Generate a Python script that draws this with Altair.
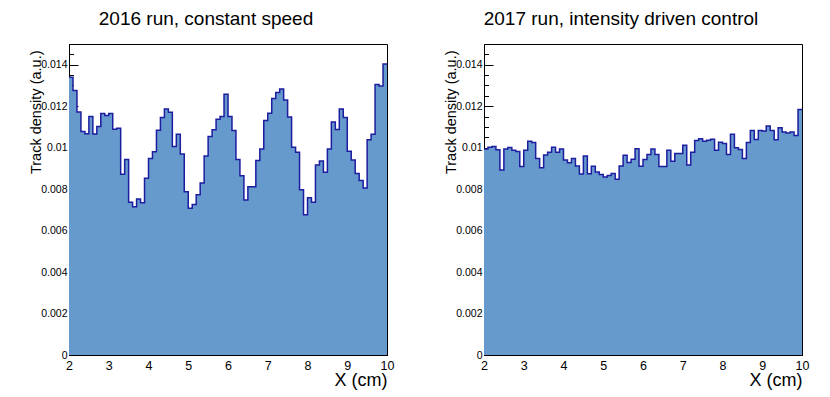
import altair as alt
import numpy as np
import pandas as pd

# ---- data ----
BIN_LOW, BIN_HIGH, N_BINS = 2.0, 10.0, 80

RUN_2016 = [
    0.0134, 0.01276, 0.01172, 0.01078, 0.01067, 0.0115, 0.01066, 0.01102, 0.01165, 0.01155,
    0.01165, 0.01089, 0.01094, 0.00872, 0.00943, 0.00737, 0.00715, 0.00753, 0.00734, 0.00853,
    0.00948, 0.0098, 0.01084, 0.01145, 0.01187, 0.01171, 0.01006, 0.01065, 0.0097, 0.00787,
    0.00708, 0.00726, 0.00773, 0.00829, 0.0096, 0.01054, 0.01086, 0.01137, 0.0115, 0.01258,
    0.0115, 0.01083, 0.00943, 0.00864, 0.00747, 0.00811, 0.00811, 0.00938, 0.00994, 0.01131,
    0.01166, 0.01237, 0.01266, 0.01283, 0.0123, 0.01148, 0.01002, 0.00978, 0.00797, 0.00676,
    0.00758, 0.00737, 0.00917, 0.00936, 0.00882, 0.00994, 0.01124, 0.01088, 0.01187, 0.01145,
    0.00983, 0.0094, 0.00876, 0.00842, 0.00805, 0.01038, 0.01065, 0.01305, 0.01298, 0.01404,
]

RUN_2017 = [
    0.00994, 0.01002, 0.01006, 0.0099, 0.00892, 0.00994, 0.01001, 0.00988, 0.00981, 0.00909,
    0.00988, 0.01031, 0.01025, 0.00948, 0.00903, 0.00965, 0.00978, 0.01002, 0.00978, 0.00994,
    0.0094, 0.00927, 0.00948, 0.00911, 0.00873, 0.0096, 0.00874, 0.0091, 0.00883, 0.00871,
    0.00859, 0.00866, 0.00875, 0.00848, 0.00911, 0.00963, 0.00929, 0.00944, 0.00995, 0.0091,
    0.00943, 0.00967, 0.00994, 0.00967, 0.00909, 0.00909, 0.00988, 0.00935, 0.00972, 0.00972,
    0.01012, 0.00916, 0.00978, 0.01035, 0.01043, 0.01031, 0.01036, 0.01041, 0.00988, 0.01026,
    0.0102, 0.00967, 0.01065, 0.00999, 0.00991, 0.00948, 0.01025, 0.01083, 0.01039, 0.01083,
    0.0108, 0.01104, 0.01083, 0.01038, 0.01096, 0.01075, 0.01071, 0.01076, 0.01059, 0.01184,
]

TITLE_2016 = "2016 run, constant speed"
TITLE_2017 = "2017 run, intensity driven control"
Y_TITLE = "Track density (a.u.)"
X_TITLE = "X (cm)"

Y_DOMAIN = [0, 0.015]
Y_MAJOR = [0, 0.002, 0.004, 0.006, 0.008, 0.01, 0.012, 0.014]
Y_MINOR = [round(0.0005 * i, 4) for i in range(31)]
X_MAJOR = [2, 3, 4, 5, 6, 7, 8, 9, 10]
X_MINOR = [round(2 + 0.2 * i, 1) for i in range(41)]

# ---- style ----
FONT = "Liberation Sans"
FILL = "#6699cc"
LINE = "#1d1da0"
W, H = 318, 311


def panel(values, title):
    edges = np.round(np.linspace(BIN_LOW, BIN_HIGH, N_BINS + 1), 3)
    df = pd.DataFrame({"x": edges, "y": list(values) + [values[-1]]})
    xs = alt.Scale(domain=[BIN_LOW, BIN_HIGH], nice=False, zero=False)
    ys = alt.Scale(domain=Y_DOMAIN, nice=False)
    base = alt.Chart(df)

    hist = base.mark_area(
        interpolate="step-after", color=FILL, opacity=1,
        line={"color": LINE, "strokeWidth": 1.5, "interpolate": "step-after"},
    ).encode(
        x=alt.X("x:Q", scale=xs, title=X_TITLE, axis=alt.Axis(
            orient="bottom", values=X_MAJOR, ticks=False, grid=False,
            labelFontSize=12.5, labelPadding=4, labelFlush=False,
            titleFontSize=18, titleFontWeight="normal", titleAlign="right",
            titleAnchor="end", titleX=W, titleY=30, titleBaseline="alphabetic")),
        y=alt.Y("y:Q", scale=ys, title=Y_TITLE, axis=alt.Axis(
            orient="left", values=Y_MAJOR, ticks=False, grid=False, format="~g",
            labelFontSize=10.5, labelPadding=2, labelFlush=False,
            titleFontSize=14.5, titleFontWeight="normal", titleAngle=270,
            titleAlign="right", titleBaseline="middle", titleX=-33, titleY=6)),
    )

    def ticks(xv, yv, size):
        return base.mark_line(opacity=0).encode(
            x=alt.X("x:Q", scale=xs, title=None, axis=alt.Axis(
                orient="bottom", values=xv, tickSize=size, offset=-size,
                labels=False, domain=False, grid=False, tickColor="black")),
            y=alt.Y("y:Q", scale=ys, title=None, axis=alt.Axis(
                orient="left", values=yv, tickSize=size, offset=-size,
                labels=False, domain=False, grid=False, tickColor="black")),
        )

    return alt.layer(hist, ticks(X_MINOR, Y_MINOR, 4.5), ticks(X_MAJOR, Y_MAJOR, 9)).resolve_axis(
        x="independent", y="independent"
    ).properties(
        width=W, height=H,
        title=alt.TitleParams(text=title, fontSize=19, fontWeight="normal", anchor="middle",
                              offset=0, dx=-22, baseline="alphabetic", color="black"),
    )


chart = alt.hconcat(panel(RUN_2016, TITLE_2016), panel(RUN_2017, TITLE_2017), spacing=47).properties(
    padding={"left": 19, "top": 1, "right": 5, "bottom": 5}
).configure(font=FONT).configure_view(stroke="black", strokeWidth=1).configure_axis(
    domainColor="black", labelColor="black", titleColor="black", tickColor="black"
)

chart.save("out.html", embed_options={"renderer": "svg", "actions": False})
